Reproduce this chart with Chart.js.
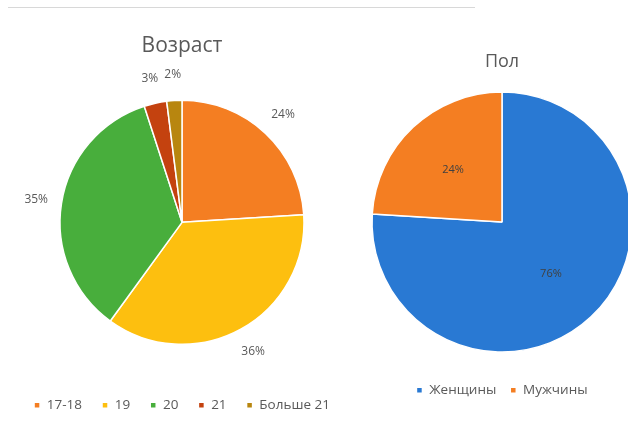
<!DOCTYPE html>
<html>
<head>
<meta charset="utf-8">
<script src="https://cdn.jsdelivr.net/npm/chart.js@4"></script>
<style>
    html, body { margin: 0; padding: 0; background: #fff; overflow: hidden; }
    body { width: 628px; height: 427px; position: relative; }
    .rule { position: absolute; left: 8px; top: 7px; width: 467px; height: 1px; background: #d8d8d8; }
    #ageBox { position: absolute; left: 0; top: 0; width: 364px; height: 427px; }
    #sexBox { position: absolute; left: 362px; top: 0; width: 280px; height: 427px; }
</style>
</head>
<body>
<div class="rule"></div>
<div id="ageBox"><canvas id="ageChart"></canvas></div>
<div id="sexBox"><canvas id="sexChart"></canvas></div>
<script>
// --- data ---
const ageLabels = ['17-18', '19', '20', '21', 'Больше 21'];
const ageValues = [24, 36, 35, 3, 2];
const ageColors = ['#F47E22', '#FDBF0F', '#48AE3C', '#C4420F', '#B8860F'];

const sexLabels = ['Женщины', 'Мужчины'];
const sexValues = [76, 24];
const sexColors = ['#2979D3', '#F47E22'];

const FONT = "'Open Sans', 'Noto Sans', sans-serif";

// percent labels drawn at the middle angle of each arc
const pctLabels = {
    id: 'pctLabels',
    afterDatasetsDraw(chart, args, opts) {
        const ctx = chart.ctx;
        const meta = chart.getDatasetMeta(0);
        const data = chart.data.datasets[0].data;
        const total = data.reduce((a, b) => a + b, 0);
        ctx.save();
        ctx.font = `${opts.size}px ${FONT}`;
        ctx.fillStyle = opts.color;
        ctx.textAlign = 'center';
        ctx.textBaseline = 'middle';
        meta.data.forEach((arc, i) => {
            const p = arc.getProps(['x', 'y', 'startAngle', 'endAngle', 'outerRadius'], true);
            const mid = (p.startAngle + p.endAngle) / 2;
            const r = p.outerRadius * opts.factor;
            const text = Math.round(data[i] / total * 100) + '%';
            ctx.fillText(text, p.x + Math.cos(mid) * r, p.y + Math.sin(mid) * r);
        });
        ctx.restore();
    }
};

function makePie(id, labels, values, colors, cfg) {
    return new Chart(document.getElementById(id), {
        type: 'pie',
        data: {
            labels: labels,
            datasets: [{
                data: values,
                backgroundColor: colors,
                borderColor: '#ffffff',
                borderWidth: 1.5,
                radius: cfg.radius
            }]
        },
        options: {
            responsive: true,
            maintainAspectRatio: false,
            animation: false,
            layout: { padding: { top: 0, bottom: cfg.bottomPad, left: 0, right: 0 } },
            plugins: {
                title: {
                    display: true,
                    text: cfg.title,
                    color: '#595959',
                    font: { family: FONT, size: cfg.titleSize, weight: 'normal' },
                    padding: { top: cfg.titleTop, bottom: cfg.titleBottom }
                },
                legend: {
                    position: 'bottom',
                    labels: {
                        color: '#595959',
                        font: { family: FONT, size: 13.5 },
                        boxWidth: 6,
                        boxHeight: 6,
                        padding: cfg.legendGap
                    }
                },
                tooltip: { enabled: false },
                pctLabels: cfg.pct
            }
        },
        plugins: [pctLabels]
    });
}

makePie('ageChart', ageLabels, ageValues, ageColors, {
    title: 'Возраст', titleSize: 21, titleTop: 33, titleBottom: 8, bottomPad: 5,
    radius: 122, legendGap: 20,
    pct: { factor: 1.21, color: '#595959', size: 12 }
});

makePie('sexChart', sexLabels, sexValues, sexColors, {
    title: 'Пол', titleSize: 18, titleTop: 51, titleBottom: 2, bottomPad: 20,
    radius: 130, legendGap: 14,
    pct: { factor: 0.55, color: '#404040', size: 11 }
});
</script>
</body>
</html>
